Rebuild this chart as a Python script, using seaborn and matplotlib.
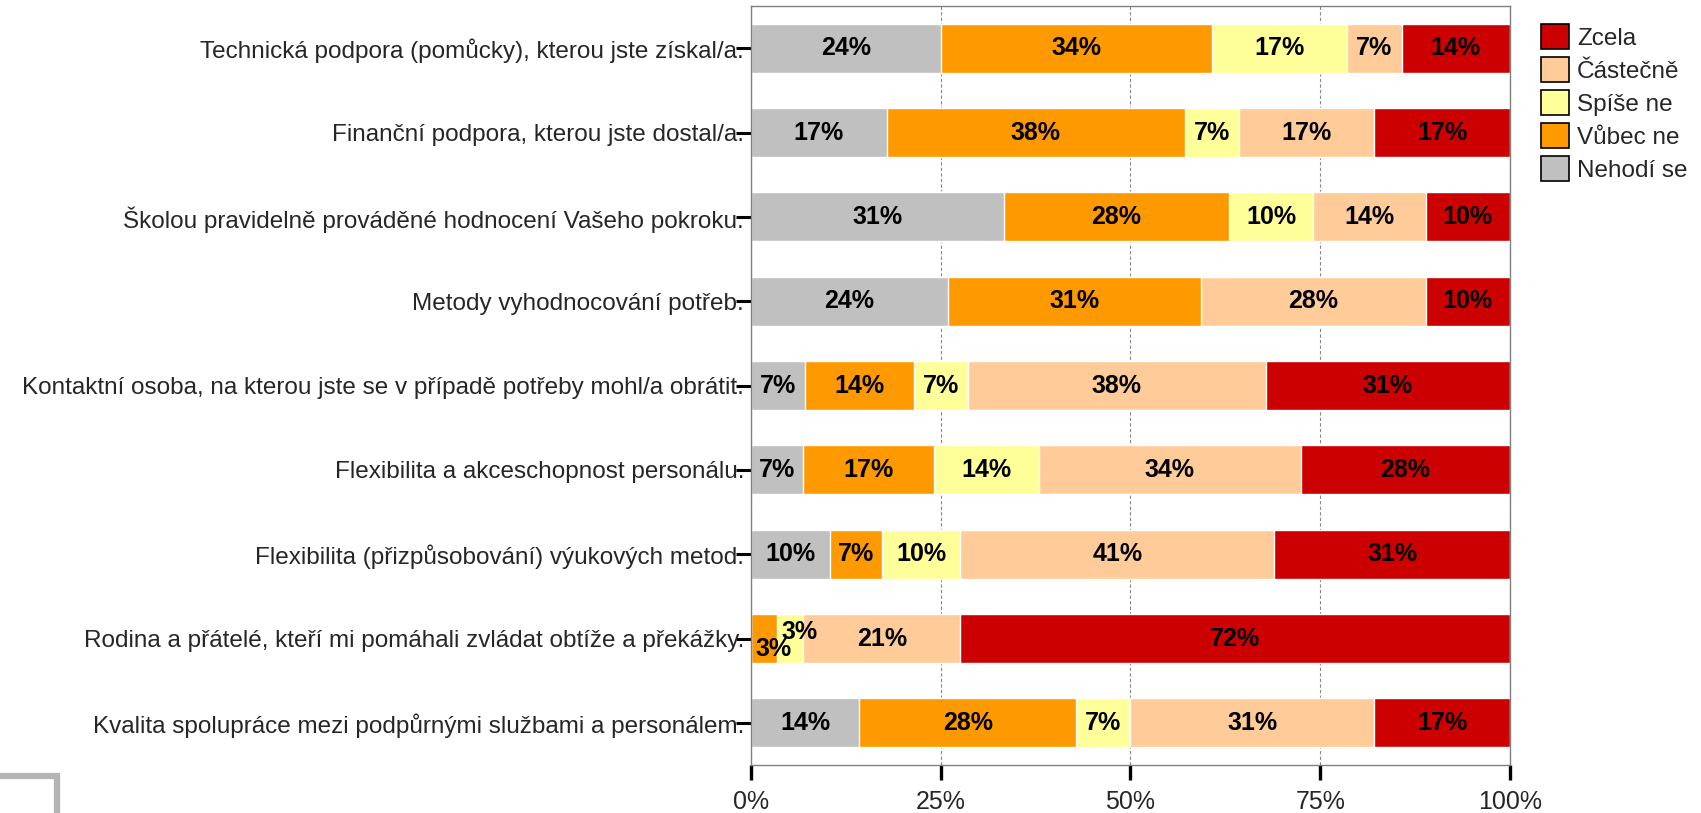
import numpy as np
import pandas as pd
import matplotlib
matplotlib.use("Agg")
import matplotlib.pyplot as plt
import seaborn as sns
from matplotlib.patches import Patch, Rectangle

# questions (top to bottom)
questions = [
    "Technická podpora (pomůcky), kterou jste získal/a.",
    "Finanční podpora, kterou jste dostal/a.",
    "Školou pravidelně prováděné hodnocení Vašeho pokroku.",
    "Metody vyhodnocování potřeb.",
    "Kontaktní osoba, na kterou jste se v případě potřeby mohl/a obrátit.",
    "Flexibilita a akceschopnost personálu.",
    "Flexibilita (přizpůsobování) výukových metod.",
    "Rodina a přátelé, kteří mi pomáhali zvládat obtíže a překážky.",
    "Kvalita spolupráce mezi podpůrnými službami a personálem.",
]

# answer counts per question, left to right
nehodi_se = [7, 5, 9, 7, 2, 2, 3, 0, 4]
vubec_ne = [10, 11, 8, 9, 4, 5, 2, 1, 8]
spise_ne = [5, 2, 3, 0, 2, 4, 3, 1, 2]
castecne = [2, 5, 4, 8, 11, 10, 12, 6, 9]
zcela = [4, 5, 3, 3, 9, 8, 9, 21, 5]

respondents = 29  # labels are % of all respondents

answers = ["Nehodí se", "Vůbec ne", "Spíše ne", "Částečně", "Zcela"]
colors = ["#C0C0C0", "#FF9900", "#FFFF99", "#FFCC99", "#CC0000"]
x_ticks = [0, 25, 50, 75, 100]

sns.set_style("white")
plt.rcParams["font.family"] = ["Liberation Sans", "DejaVu Sans"]

counts = np.array([nehodi_se, vubec_ne, spise_ne, castecne, zcela], dtype=float)
shares = counts / counts.sum(axis=0) * 100
cum = np.cumsum(shares, axis=0)

fig = plt.figure(figsize=(17.01, 8.13), dpi=100)
ax = fig.add_axes([0.4415, 0.059, 0.4462, 0.9336])

# draw cumulative totals from the right so each layer shows as a segment
for i in range(len(answers) - 1, -1, -1):
    df = pd.DataFrame({"q": questions, "v": cum[i]})
    sns.barplot(data=df, x="v", y="q", orient="h", color=colors[i],
                saturation=1, width=0.58, ax=ax, zorder=2)

# percentage labels
for j in range(len(questions)):
    k = 0
    for i in range(len(answers)):
        if counts[i, j] == 0:
            continue
        left = cum[i, j] - shares[i, j]
        xc = left + shares[i, j] / 2
        yc = j
        if shares[i, j] < 5:
            yc = j + (0.13 if k % 2 == 0 else -0.08)
            xc = xc + 1.2
            k += 1
        pct = int(round(counts[i, j] / respondents * 100))
        ax.text(xc, yc, f"{pct}%", ha="center", va="center",
                fontsize=18, fontweight="bold", color="black", zorder=3)

ax.set_xlim(0, 100)
ax.set_ylim(8.5, -0.5)
ax.set_xticks(x_ticks)
ax.set_xticklabels([f"{t}%" for t in x_ticks])
ax.set_xlabel("")
ax.set_ylabel("")
ax.xaxis.grid(True, linestyle=(0, (3, 2)), color="#888888", linewidth=0.8)
ax.yaxis.grid(False)
ax.set_axisbelow(True)
for s in ax.spines.values():
    s.set_color("#808080")
    s.set_linewidth(1)

ax.tick_params(axis="x", length=11, width=2.4, color="black", pad=7,
               labelsize=18, bottom=True)
ax.tick_params(axis="y", length=11, width=2.2, color="black", pad=-6,
               labelsize=17.5, left=True)

handles = [Patch(facecolor=colors[i], edgecolor="black", linewidth=1.2,
                 label=answers[i]) for i in range(len(answers) - 1, -1, -1)]
fig.legend(handles=handles, loc="upper left", bbox_to_anchor=(0.9, 0.982),
           frameon=False, fontsize=17.5, handlelength=1.15, handleheight=1.2,
           handletextpad=0.35, labelspacing=0.3, borderaxespad=0)

# grey frame corner in the lower left
fig.add_artist(Rectangle((-0.05, -0.1), 0.0835, 0.146, transform=fig.transFigure,
                         fill=False, edgecolor="#b4b4b4", linewidth=4.5))

fig.savefig("out.png", dpi=100)
